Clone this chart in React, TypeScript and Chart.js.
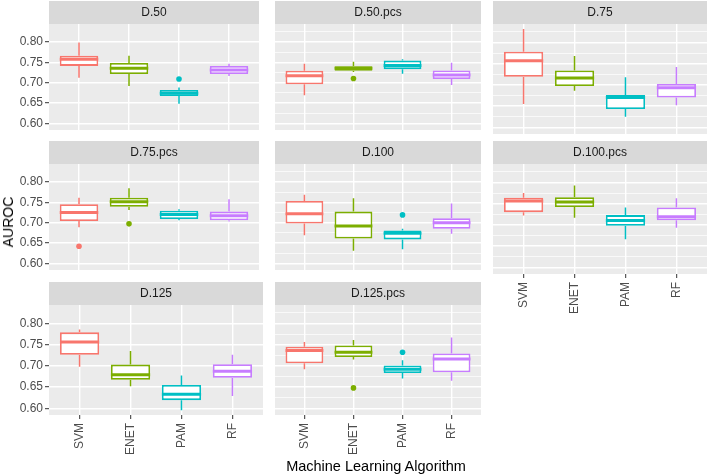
import React, { useEffect, useRef } from 'react';
import { Chart, registerables } from 'chart.js';

Chart.register(...registerables);

const FONT = "'Liberation Sans', Arial, Helvetica, sans-serif";
Chart.defaults.font.family = FONT;

// ---------- data ----------
const panelNames = ['D.50', 'D.50.pcs', 'D.75', 'D.75.pcs', 'D.100', 'D.100.pcs', 'D.125', 'D.125.pcs'];
const algorithms = ['SVM', 'ENET', 'PAM', 'RF'];
const algColors = ['#F8766D', '#7CAE00', '#00BFC4', '#C77CFF'];

// rows: panels (in panelNames order); columns: algorithms (SVM, ENET, PAM, RF)
const whiskerHigh = [
  [0.798, 0.766, 0.688, 0.746],
  [0.746, 0.751, 0.757, 0.749],
  [0.832, 0.768, 0.718, 0.742],
  [0.761, 0.784, 0.733, 0.757],
  [0.768, 0.760, 0.685, 0.747],
  [0.775, 0.793, 0.741, 0.763],
  [0.786, 0.735, 0.677, 0.726],
  [0.756, 0.761, 0.713, 0.767],
];
const upperQuartile = [
  [0.766, 0.748, 0.682, 0.741],
  [0.729, 0.740, 0.754, 0.730],
  [0.778, 0.734, 0.676, 0.702],
  [0.745, 0.761, 0.729, 0.727],
  [0.753, 0.727, 0.681, 0.711],
  [0.764, 0.765, 0.723, 0.741],
  [0.779, 0.703, 0.655, 0.704],
  [0.745, 0.748, 0.701, 0.729],
];
const medianValue = [
  [0.757, 0.735, 0.674, 0.731],
  [0.717, 0.735, 0.742, 0.719],
  [0.757, 0.716, 0.670, 0.693],
  [0.725, 0.751, 0.720, 0.717],
  [0.722, 0.692, 0.674, 0.700],
  [0.756, 0.754, 0.710, 0.719],
  [0.756, 0.679, 0.633, 0.687],
  [0.736, 0.732, 0.692, 0.716],
];
const lowerQuartile = [
  [0.741, 0.721, 0.667, 0.721],
  [0.696, 0.729, 0.733, 0.709],
  [0.719, 0.697, 0.643, 0.670],
  [0.704, 0.739, 0.709, 0.706],
  [0.698, 0.661, 0.659, 0.685],
  [0.730, 0.742, 0.698, 0.711],
  [0.726, 0.667, 0.619, 0.672],
  [0.706, 0.721, 0.683, 0.685],
];
const whiskerLow = [
  [0.712, 0.692, 0.648, 0.716],
  [0.669, 0.726, 0.722, 0.694],
  [0.655, 0.686, 0.625, 0.652],
  [0.689, 0.731, 0.706, 0.703],
  [0.669, 0.631, 0.635, 0.673],
  [0.722, 0.717, 0.666, 0.693],
  [0.698, 0.652, 0.595, 0.629],
  [0.692, 0.715, 0.670, 0.665],
];
// [panel, algorithm, value]
const outliers: [string, string, number][] = [
  ['D.50', 'PAM', 0.709],
  ['D.50.pcs', 'ENET', 0.710],
  ['D.75.pcs', 'SVM', 0.642],
  ['D.75.pcs', 'ENET', 0.697],
  ['D.100', 'PAM', 0.719],
  ['D.125.pcs', 'ENET', 0.648],
  ['D.125.pcs', 'PAM', 0.732],
];

const yMajorTicks = [0.6, 0.65, 0.7, 0.75, 0.8];
const yMinorTicks = [0.625, 0.675, 0.725, 0.775, 0.825];
const yMin = 0.584;
const yMax = 0.8436;

// ---------- layout ----------
const colLeft = [49, 271, 493];
const plotWidth = 214;
const yAxisWidth = 49;
const rowTop = [1, 141, 282];
const stripHeight = 23;
const plotHeight = 110;
const xAxisHeight = 50;

const isMajor = (v: number) => yMajorTicks.some((m) => Math.abs(m - v) < 1e-6);

function Panel({ index }: { index: number }) {
  const ref = useRef<HTMLCanvasElement>(null);
  const col = index % 3;
  const row = Math.floor(index / 3);
  const showY = col === 0;
  const showX = row === 2 || (row === 1 && col === 2);
  const width = showY ? yAxisWidth + plotWidth : plotWidth;
  const height = stripHeight + plotHeight + (showX ? xAxisHeight : 0);
  const left = showY ? colLeft[0] - yAxisWidth : colLeft[col];

  useEffect(() => {
    const name = panelNames[index];
    const pts = outliers.filter((o) => o[0] === name);

    const decor = {
      id: 'panelDecor',
      beforeDraw(chart: any) {
        const { ctx, chartArea: a } = chart;
        ctx.save();
        ctx.fillStyle = '#EBEBEB';
        ctx.fillRect(a.left, a.top, a.right - a.left, a.bottom - a.top);
        ctx.fillStyle = '#D9D9D9';
        ctx.fillRect(a.left, 0, a.right - a.left, a.top);
        ctx.fillStyle = '#1A1A1A';
        ctx.font = `12px ${FONT}`;
        ctx.textAlign = 'center';
        ctx.textBaseline = 'middle';
        ctx.fillText(name, (a.left + a.right) / 2, a.top / 2 + 0.5);
        ctx.restore();
      },
      beforeDatasetsDraw(chart: any) {
        const { ctx } = chart;
        const xs = chart.scales.x;
        const ys = chart.scales.y;
        ctx.save();
        ctx.lineWidth = 1.5;
        algorithms.forEach((_, i) => {
          const x = xs.getPixelForValue(i + 1);
          ctx.strokeStyle = algColors[i];
          ctx.beginPath();
          ctx.moveTo(x, ys.getPixelForValue(whiskerHigh[index][i]));
          ctx.lineTo(x, ys.getPixelForValue(upperQuartile[index][i]));
          ctx.moveTo(x, ys.getPixelForValue(lowerQuartile[index][i]));
          ctx.lineTo(x, ys.getPixelForValue(whiskerLow[index][i]));
          ctx.stroke();
        });
        ctx.restore();
      },
      afterDatasetsDraw(chart: any) {
        const { ctx } = chart;
        const xs = chart.scales.x;
        const ys = chart.scales.y;
        const meta = chart.getDatasetMeta(0);
        ctx.save();
        ctx.lineWidth = 3;
        algorithms.forEach((_, i) => {
          const el = meta.data[i];
          const x = xs.getPixelForValue(i + 1);
          const half = el.width / 2;
          const y = ys.getPixelForValue(medianValue[index][i]);
          ctx.strokeStyle = algColors[i];
          ctx.beginPath();
          ctx.moveTo(x - half, y);
          ctx.lineTo(x + half, y);
          ctx.stroke();
        });
        ctx.restore();
      },
    };

    const chart = new Chart(ref.current as HTMLCanvasElement, {
      type: 'bar',
      data: {
        datasets: [
          {
            type: 'bar',
            data: algorithms.map((_, i) => ({
              x: i + 1,
              y: [lowerQuartile[index][i], upperQuartile[index][i]],
            })) as any,
            backgroundColor: '#FFFFFF',
            borderColor: algColors,
            borderWidth: 1.8,
            borderSkipped: false,
            categoryPercentage: 1,
            barPercentage: 0.77,
          },
          {
            type: 'scatter',
            data: pts.map((o) => ({ x: algorithms.indexOf(o[1]) + 1, y: o[2] })),
            pointBackgroundColor: pts.map((o) => algColors[algorithms.indexOf(o[1])]),
            pointBorderWidth: 0,
            pointRadius: 2.8,
          } as any,
        ],
      },
      options: {
        animation: false,
        responsive: false,
        maintainAspectRatio: false,
        devicePixelRatio: 1,
        events: [],
        layout: { padding: { top: stripHeight, left: 0, right: 0, bottom: 0 } },
        plugins: { legend: { display: false }, tooltip: { enabled: false } },
        scales: {
          x: {
            type: 'linear',
            min: 0.4,
            max: 4.6,
            offset: false,
            afterBuildTicks: (s: any) => {
              s.ticks = algorithms.map((_, i) => ({ value: i + 1 }));
            },
            afterFit: (s: any) => {
              s.height = showX ? xAxisHeight : 0;
              s.paddingLeft = 0;
              s.paddingRight = 0;
            },
            grid: {
              color: '#FFFFFF',
              lineWidth: 1.4,
              drawTicks: showX,
              tickLength: 4,
              tickColor: '#333333',
              tickWidth: 1,
              offset: false,
            },
            border: { display: false },
            ticks: {
              display: showX,
              autoSkip: false,
              minRotation: 90,
              maxRotation: 90,
              padding: 4,
              color: '#4D4D4D',
              font: { size: 12, family: FONT },
              callback: (v: any) => algorithms[Math.round(Number(v)) - 1] ?? '',
            },
          },
          y: {
            type: 'linear',
            min: yMin,
            max: yMax,
            afterBuildTicks: (s: any) => {
              s.ticks = [...yMajorTicks, ...yMinorTicks]
                .sort((a, b) => a - b)
                .map((v) => ({ value: v }));
            },
            afterFit: (s: any) => {
              s.width = showY ? yAxisWidth : 0;
              s.paddingTop = 0;
              s.paddingBottom = 0;
            },
            grid: {
              color: '#FFFFFF',
              lineWidth: (c: any) => (c.tick && isMajor(c.tick.value) ? 1.4 : 0.7),
              drawTicks: showY,
              tickLength: 4,
              tickColor: (c: any) => (c.tick && isMajor(c.tick.value) ? '#333333' : 'rgba(0,0,0,0)'),
              tickWidth: 1,
            },
            border: { display: false },
            ticks: {
              display: showY,
              padding: 2,
              color: '#4D4D4D',
              font: { size: 12, family: FONT },
              callback: (v: any) => (isMajor(Number(v)) ? Number(v).toFixed(2) : ''),
            },
          },
        },
      } as any,
      plugins: [decor],
    });
    return () => chart.destroy();
  }, [index]);

  return (
    <canvas
      ref={ref}
      width={width}
      height={height}
      style={{ position: 'absolute', left, top: rowTop[row], width, height }}
    />
  );
}

export default function App() {
  return (
    <div
      style={{
        position: 'absolute',
        left: 0,
        top: 0,
        width: 707,
        height: 476,
        background: '#FFFFFF',
        fontFamily: FONT,
        overflow: 'hidden',
      }}
    >
      {panelNames.map((_, i) => (
        <Panel key={i} index={i} />
      ))}
      <div
        style={{
          position: 'absolute',
          left: 8,
          top: 222,
          transform: 'translate(-50%, -50%) rotate(-90deg)',
          fontSize: 14,
          color: '#000000',
          whiteSpace: 'nowrap',
        }}
      >
        AUROC
      </div>
      <div
        style={{
          position: 'absolute',
          left: 376,
          top: 466,
          transform: 'translate(-50%, -50%)',
          fontSize: 14.5,
          color: '#000000',
          whiteSpace: 'nowrap',
        }}
      >
        Machine Learning Algorithm
      </div>
    </div>
  );
}
